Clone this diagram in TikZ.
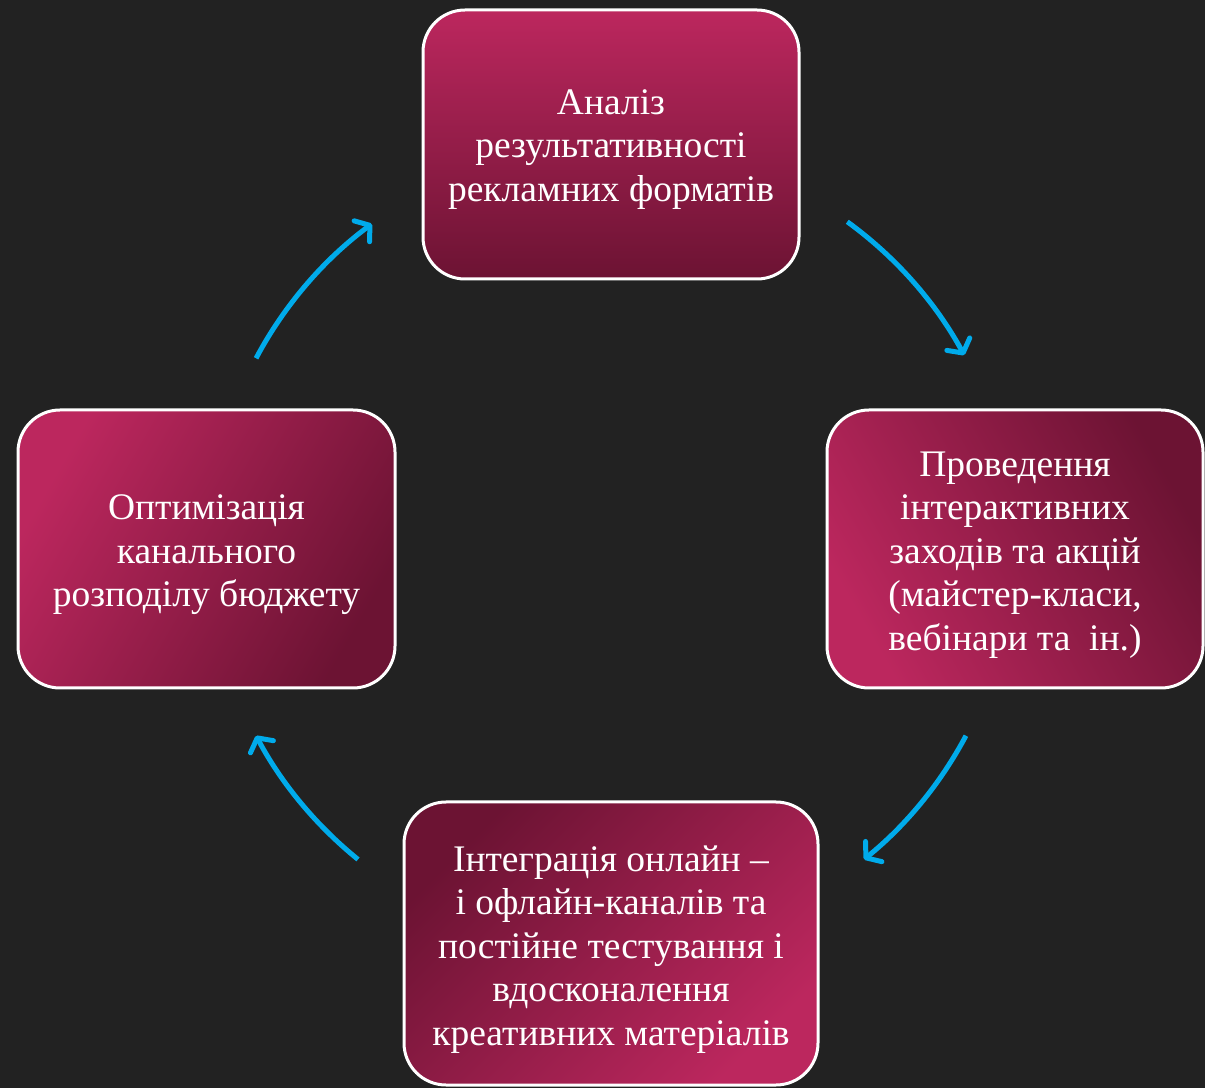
\documentclass[tikz,border=0pt]{standalone}
\usepackage{fontspec}
\setmainfont{Liberation Serif}
\usetikzlibrary{arrows.meta,calc}
\definecolor{bgc}{HTML}{222222}
\definecolor{brightc}{HTML}{BC275E}
\definecolor{darkc}{HTML}{6C1333}
\definecolor{arrc}{HTML}{00ABEB}
\tikzset{
  stepbox/.style={rounded corners=42pt, draw=white, line width=3pt, inner sep=0pt},
  steptext/.style={inner sep=0pt, align=center, text=white, font=\fontsize{37.5}{43.5}\selectfont},
  cyc/.style={draw=arrc, line width=5pt, -{Straight Barb[length=10pt,width=26pt,round]}}
}
\begin{document}
\begin{tikzpicture}[x=1pt,y=1pt]
\fill[bgc] (0,0) rectangle (1205,1088);
\useasboundingbox (0,0) rectangle (1205,1088);
\node[stepbox, minimum width=376pt, minimum height=269pt, top color=brightc, bottom color=darkc]
  (top) at (611,943.5) {};
\node[steptext] (topt) at ([yshift=-5pt]top.center) {Аналіз\\результативності\\рекламних форматів};
\node[stepbox, minimum width=376pt, minimum height=278pt, top color=darkc, bottom color=brightc, shading angle=-60]
  (right) at (1015,539) {};
\node[steptext] (rightt) at ([yshift=-6pt]right.center) {Проведення\\інтерактивних\\заходів та акцій\\(майстер-класи,\\вебінари та \ ін.)};
\node[stepbox, minimum width=377pt, minimum height=278pt, top color=brightc, bottom color=darkc, shading angle=60]
  (left) at (206.5,539) {};
\node[steptext] (leftt) at ([yshift=-6pt]left.center) {Оптимізація\\канального\\розподілу бюджету};
\node[stepbox, minimum width=414pt, minimum height=283pt, top color=darkc, bottom color=brightc, shading angle=45]
  (bottom) at (611,144.5) {};
\node[steptext] (bottomt) at ([yshift=-6pt]bottom.center) {Інтеграція онлайн –\\і офлайн-каналів та\\постійне тестування і\\вдосконалення\\креативних матеріалів};
\coordinate (c) at (611,541);
\coordinate (a1) at ($(c)+(54:402)$);
\coordinate (a2) at ($(c)+(-28:402)$);
\coordinate (a3) at ($(c)+(-129:402)$);
\coordinate (a4) at ($(c)+(152:402)$);
\draw[cyc] (a1) arc[start angle=54, end angle=28.5, radius=402];
\draw[cyc] (a2) arc[start angle=-28, end angle=-51, radius=402];
\draw[cyc] (a3) arc[start angle=-129, end angle=-152, radius=402];
\draw[cyc] (a4) arc[start angle=152, end angle=126.5, radius=402];
\end{tikzpicture}
\end{document}
